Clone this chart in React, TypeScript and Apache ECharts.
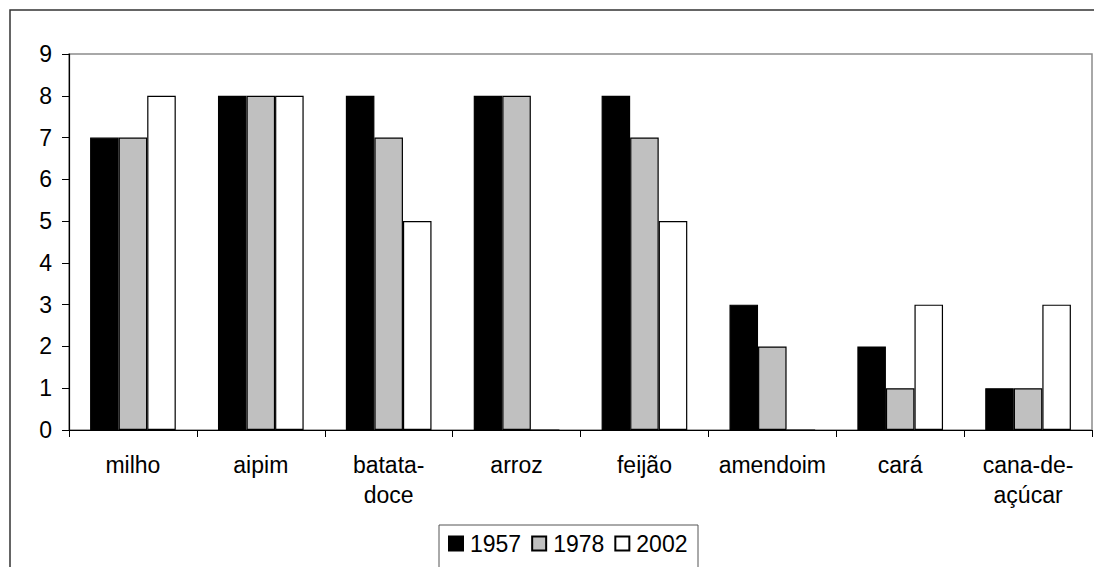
import React, { useEffect, useRef } from "react";
import * as echarts from "echarts";

const categories = ["milho", "aipim", "batata-\ndoce", "arroz", "feijão", "amendoim", "cará", "cana-de-\naçúcar"];
const seriesNames = ["1957", "1978", "2002"];
const values1957 = [7, 8, 8, 8, 8, 3, 2, 1];
const values1978 = [7, 8, 7, 8, 7, 2, 1, 1];
const values2002 = [8, 8, 5, 0, 5, 0, 3, 3];
const colors = ["#000000", "#c0c0c0", "#ffffff"];
const yTicks = [0, 1, 2, 3, 4, 5, 6, 7, 8, 9];

export default function App() {
  const ref = useRef<HTMLDivElement>(null);
  useEffect(() => {
    if (!ref.current) return;
    const chart = echarts.init(ref.current, null, { renderer: "svg" });
    const font = "'Liberation Sans', Arial, sans-serif";
    const data = [values1957, values1978, values2002];
    chart.setOption({
      animation: false,
      backgroundColor: "#ffffff",
      textStyle: { fontFamily: font },
      grid: {
        left: 69,
        top: 54,
        right: 2,
        bottom: 137,
        show: true,
        borderColor: "#8c8c8c",
        borderWidth: 1.5,
        backgroundColor: "#ffffff",
      },
      graphic: [
        {
          type: "rect",
          shape: { x: 10, y: 10, width: 1300, height: 800 },
          style: { fill: "none", stroke: "#333333", lineWidth: 1.5 },
          z: 100,
          silent: true,
        },
        {
          type: "rect",
          shape: { x: 439, y: 525, width: 259, height: 80 },
          style: { fill: "#ffffff", stroke: "#555555", lineWidth: 1 },
          z: 1,
          silent: true,
        },
      ],
      legend: {
        left: 448,
        top: 532,
        padding: 0,
        itemWidth: 14,
        itemHeight: 14,
        itemGap: 10,
        icon: "rect",
        data: seriesNames,
        z: 10,
        textStyle: { fontFamily: font, fontSize: 23, color: "#000", padding: [0, 0, 0, 2] },
      },
      xAxis: {
        type: "category",
        data: categories,
        boundaryGap: true,
        axisLine: { show: true, lineStyle: { color: "#000", width: 1.2 } },
        axisTick: { show: true, length: 7, inside: false, lineStyle: { color: "#000" } },
        axisLabel: {
          interval: 0,
          margin: 20,
          fontSize: 23,
          lineHeight: 30,
          color: "#000",
          fontFamily: font,
        },
        splitLine: { show: false },
      },
      yAxis: {
        type: "value",
        min: 0,
        max: 9,
        interval: 1,
        axisLine: { show: true, lineStyle: { color: "#000", width: 1.2 } },
        axisTick: { show: true, length: 7, lineStyle: { color: "#000" } },
        axisLabel: {
          margin: 17,
          fontSize: 23,
          color: "#000",
          fontFamily: font,
          formatter: (v: number) => (yTicks.includes(v) ? String(v) : ""),
        },
        splitLine: { show: false },
      },
      series: seriesNames.map((name, i) => ({
        name,
        type: "bar",
        data: data[i],
        barGap: "0%",
        barCategoryGap: "33%",
        itemStyle: { color: colors[i], borderColor: "#000", borderWidth: 1.2 },
      })),
    });
    return () => chart.dispose();
  }, []);
  return (
    <div
      ref={ref}
      style={{ position: "fixed", left: 0, top: 0, width: 1094, height: 567 }}
    />
  );
}
